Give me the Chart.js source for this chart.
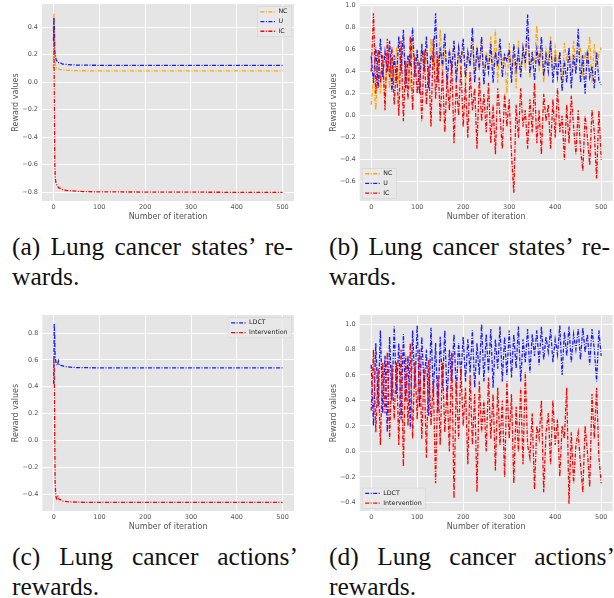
<!DOCTYPE html>
<html lang="en">
<head>
<meta charset="UTF-8">
<title>Lung cancer rewards</title>
<script src="https://cdn.jsdelivr.net/npm/chart.js@4"></script>
<style>
    body {
        margin: 0;
        width: 614px;
        height: 598px;
        overflow: hidden;
        background: #fff;
        position: relative;
    }
    canvas {
        position: absolute;
    }
    .cap {
        position: absolute;
        font-family: "Liberation Serif", serif;
        font-size: 25.5px;
        line-height: 30px;
        color: #111;
    }
    .cap .l1 {
        text-align: justify;
        text-align-last: justify;
    }
</style>
</head>
<body>
<canvas id="chartA" width="307" height="222" style="left:0;top:0"></canvas>
<canvas id="chartB" width="307" height="222" style="left:307px;top:0"></canvas>
<canvas id="chartC" width="307" height="222" style="left:0;top:310px"></canvas>
<canvas id="chartD" width="307" height="222" style="left:307px;top:310px"></canvas>

<div class="cap" style="left:12px;top:232px"><div class="l1" style="width:281px">(a) Lung cancer states’ re-</div><div>wards.</div></div>
<div class="cap" style="left:329px;top:232px"><div class="l1" style="width:281px">(b) Lung cancer states’ re-</div><div>wards.</div></div>
<div class="cap" style="left:12px;top:542px"><div class="l1" style="width:286px">(c) Lung cancer actions’</div><div>rewards.</div></div>
<div class="cap" style="left:329px;top:542px"><div class="l1" style="width:286px">(d) Lung cancer actions’</div><div>rewards.</div></div>

<script>
// (a) states, converging
const iterA = [0, 1, 2, 3, 4, 5, 6, 8, 10, 12, 15, 20, 25, 30, 40, 50, 70, 100, 200, 300, 400, 500];
const ncA = [0.10, 0.50, 0.25, 0.15, 0.13, 0.12, 0.11, 0.10, 0.10, 0.095, 0.09, 0.09, 0.088, 0.085, 0.085, 0.083, 0.082, 0.082, 0.081, 0.081, 0.081, 0.081];
const uA = [0.30, 0.47, 0.40, 0.22, 0.20, 0.18, 0.16, 0.15, 0.15, 0.14, 0.14, 0.13, 0.13, 0.128, 0.125, 0.124, 0.123, 0.122, 0.122, 0.122, 0.122, 0.122];
const icA = [0.40, 0.30, -0.20, -0.60, -0.70, -0.72, -0.74, -0.75, -0.76, -0.77, -0.77, -0.78, -0.785, -0.787, -0.79, -0.792, -0.795, -0.797, -0.798, -0.799, -0.80, -0.80];

// (c) actions, converging
const iterC = [0, 1, 2, 3, 4, 5, 6, 8, 10, 12, 15, 20, 25, 30, 40, 50, 70, 100, 200, 300, 400, 500];
const ldctC = [0.42, 0.87, 0.80, 0.62, 0.60, 0.58, 0.57, 0.56, 0.59, 0.56, 0.56, 0.555, 0.55, 0.548, 0.545, 0.543, 0.542, 0.541, 0.54, 0.54, 0.54, 0.54];
const intC = [0.60, 0.55, 0.10, -0.30, -0.38, -0.42, -0.43, -0.41, -0.42, -0.44, -0.44, -0.45, -0.452, -0.455, -0.457, -0.458, -0.46, -0.46, -0.46, -0.46, -0.46, -0.46];

// (b) and (d): values read every 5 iterations
const iterB = Array.from({length: 101}, (_, i) => i * 5);
const ncB = [0.10, 0.35, 0.05, 0.55, 0.20, 0.45, 0.15, 0.60, 0.25, 0.50, 0.30,
    0.62, 0.28, 0.55, 0.70, 0.35, 0.50, 0.25, 0.65, 0.40, 0.55,
    0.45, 0.62, 0.38, 0.58, 0.30, 0.70, 0.42, 0.55, 0.35, 0.78,
    0.40, 0.60, 0.32, 0.58, 0.45, 0.68, 0.36, 0.55, 0.42, 0.62,
    0.30, 0.55, 0.48, 0.65, 0.38, 0.60, 0.44, 0.70, 0.35, 0.58,
    0.46, 0.72, 0.40, 0.78, 0.30, 0.62, 0.48, 0.56, 0.20, 0.66,
    0.42, 0.58, 0.25, 0.68, 0.38, 0.60, 0.45, 0.75, 0.35, 0.55,
    0.48, 0.82, 0.40, 0.65, 0.30, 0.60, 0.50, 0.72, 0.36, 0.62,
    0.45, 0.58, 0.28, 0.66, 0.50, 0.60, 0.38, 0.68, 0.44, 0.55,
    0.62, 0.35, 0.58, 0.48, 0.72, 0.30, 0.65, 0.45, 0.55, 0.62];
const uB = [0.54, 0.30, 0.62, 0.25, 0.70, 0.35, 0.58, 0.40, 0.68, 0.22, 0.55,
    0.30, 0.72, 0.40, 0.78, 0.25, 0.55, 0.45, 0.80, 0.35, 0.60,
    0.20, 0.65, 0.40, 0.72, 0.25, 0.55, 0.50, 0.93, 0.30, 0.62,
    0.45, 0.75, 0.28, 0.60, 0.40, 0.68, 0.30, 0.62, 0.48, 0.70,
    0.35, 0.58, 0.45, 0.80, 0.30, 0.62, 0.42, 0.72, 0.28, 0.55,
    0.40, 0.65, 0.30, 0.58, 0.45, 0.70, 0.35, 0.55, 0.50, 0.60,
    0.30, 0.65, 0.42, 0.58, 0.35, 0.62, 0.48, 0.92, 0.38, 0.58,
    0.32, 0.60, 0.45, 0.72, 0.36, 0.55, 0.40, 0.68, 0.30, 0.52,
    0.35, 0.58, 0.22, 0.50, 0.30, 0.62, 0.25, 0.55, 0.38, 0.79,
    0.30, 0.55, 0.20, 0.60, 0.35, 0.45, 0.25, 0.58, 0.32, 0.28];
const icB = [0.40, 0.93, 0.20, 0.60, 0.30, 0.55, 0.05, 0.70, 0.35, 0.62, 0.10,
    0.45, 0.00, 0.68, -0.05, 0.50, 0.15, 0.72, 0.05, 0.55, 0.20,
    0.48, -0.05, 0.60, 0.10, 0.45, -0.10, 0.70, 0.15, 0.55, -0.05,
    0.42, -0.15, 0.35, 0.05, 0.50, -0.25, 0.30, 0.00, 0.45, -0.10,
    0.30, -0.20, 0.40, 0.05, 0.25, -0.30, 0.35, -0.05, 0.20, -0.15,
    0.30, -0.25, 0.10, -0.35, 0.25, 0.00, -0.30, 0.20, -0.10, 0.15,
    -0.35, -0.70, 0.10, -0.20, 0.25, -0.10, 0.05, -0.30, 0.15, -0.15,
    0.30, -0.25, 0.05, -0.35, 0.20, -0.05, 0.10, -0.30, 0.15, -0.20,
    0.25, -0.15, 0.00, -0.40, 0.10, -0.25, 0.18, -0.10, -0.35, 0.05,
    -0.30, -0.50, 0.00, -0.20, -0.45, 0.05, -0.15, -0.57, 0.05, -0.40];
const ldctD = [0.68, 0.20, 0.85, 0.35, 0.95, 0.30, 0.75, 0.15, 0.90, 0.40, 0.98,
    0.45, 0.85, 0.25, 0.92, 0.40, 0.75, 0.18, 0.95, 0.50, 0.99,
    0.35, 0.90, 0.50, 0.80, 0.28, 0.97, 0.45, 0.85, 0.30, 0.90,
    0.50, 0.95, 0.40, 0.80, 0.55, 0.92, 0.45, 0.85, 0.60, 0.90,
    0.55, 0.88, 0.62, 0.95, 0.50, 0.85, 0.60, 1.00, 0.55, 0.92,
    0.62, 0.96, 0.50, 0.88, 0.65, 0.98, 0.55, 0.90, 0.60, 0.95,
    0.58, 0.92, 0.65, 0.98, 0.55, 0.88, 0.70, 0.96, 0.62, 0.92,
    0.75, 0.95, 0.68, 0.98, 0.72, 0.90, 0.78, 0.96, 0.70, 0.88,
    0.76, 0.99, 0.60, 0.94, 0.75, 0.98, 0.70, 0.92, 0.80, 0.96,
    0.72, 0.97, 0.78, 0.92, 0.68, 0.96, 0.80, 0.55, 0.95, 0.75];
const intD = [0.32, 0.80, 0.15, 0.65, 0.05, 0.70, 0.30, 0.78, 0.10, 0.68, 0.25,
    0.70, 0.05, 0.80, -0.12, 0.75, 0.20, 0.85, 0.10, 0.70, 0.25,
    0.80, 0.10, 0.65, -0.05, 0.72, 0.20, 0.55, -0.25, 0.60, 0.05,
    0.70, 0.15, 0.50, 0.00, 0.78, -0.37, 0.55, 0.10, 0.65, 0.20,
    0.50, -0.10, 0.60, 0.05, 0.45, -0.32, 0.55, 0.15, 0.40, 0.00,
    0.58, 0.10, 0.45, -0.15, 0.50, 0.05, 0.40, -0.20, 0.55, 0.10,
    0.45, -0.25, 0.35, 0.00, 0.50, -0.10, 0.62, 0.05, -0.05, 0.30,
    -0.30, 0.20, 0.10, 0.40, -0.32, 0.15, 0.30, -0.10, 0.40, 0.05,
    0.25, -0.20, 0.20, 0.10, 0.50, -0.41, 0.15, -0.25, 0.05, 0.15,
    -0.10, -0.32, 0.20, 0.00, -0.28, 0.45, 0.10, 0.50, -0.05, -0.25];

// tick labels
const xTicks = [0, 100, 200, 300, 400, 500];
const yTicksA = [-0.8, -0.6, -0.4, -0.2, 0.0, 0.2, 0.4];
const yTicksB = [-0.6, -0.4, -0.2, 0.0, 0.2, 0.4, 0.6, 0.8, 1.0];
const yTicksC = [-0.4, -0.2, 0.0, 0.2, 0.4, 0.6, 0.8];
const yTicksD = [-0.4, -0.2, 0.0, 0.2, 0.4, 0.6, 0.8, 1.0];

const ORANGE = '#FFA500', BLUE = '#1A1AFF', RED = '#FF0000';
const DASHDOT = [4, 1.5, 1, 1.5];

Chart.defaults.font.family = '"DejaVu Sans", sans-serif';

// grey panel behind the grid
const plotBg = {
    id: 'plotBg',
    beforeDraw(chart) {
        const {ctx, chartArea: a} = chart;
        ctx.save();
        ctx.fillStyle = '#E5E5E5';
        ctx.fillRect(a.left, a.top, a.right - a.left, a.bottom - a.top);
        ctx.restore();
    }
};

// matplotlib-like legend inside the axes
const boxLegend = {
    id: 'boxLegend',
    afterDatasetsDraw(chart, args, opts) {
        const {ctx, chartArea: a} = chart;
        const sets = chart.data.datasets;
        ctx.save();
        ctx.font = '6.3px "DejaVu Sans"';
        const tw = Math.max(...sets.map(d => ctx.measureText(d.label).width));
        const rowH = 9.7;
        const w = 3 + 15 + 3 + tw + 4;
        const h = rowH * sets.length + 1;
        const m = 2.5;
        const x = opts.corner === 'tr' ? a.right - m - w : a.left + m;
        const y = opts.corner === 'tr' ? a.top + m : a.bottom - m - h;
        ctx.fillStyle = 'rgba(233,233,233,0.85)';
        ctx.strokeStyle = '#D8D8D8';
        ctx.lineWidth = 0.8;
        ctx.fillRect(x, y, w, h);
        ctx.strokeRect(x, y, w, h);
        sets.forEach((d, i) => {
            const cy = y + 0.5 + rowH * (i + 0.5);
            ctx.strokeStyle = d.borderColor;
            ctx.lineWidth = 1.3;
            ctx.setLineDash(DASHDOT);
            ctx.beginPath();
            ctx.moveTo(x + 3, cy);
            ctx.lineTo(x + 18, cy);
            ctx.stroke();
            ctx.setLineDash([]);
            ctx.fillStyle = '#222';
            ctx.textBaseline = 'middle';
            ctx.fillText(d.label, x + 21, cy);
        });
        ctx.restore();
    }
};

const fmtY = v => v.toFixed(1).replace('-', '\u2212');

function makeChart(id, cfg) {
    const datasets = cfg.series.map(s => ({
        label: s.label,
        data: cfg.iters.map((x, i) => ({x: x, y: s.values[i]})),
        borderColor: s.color,
        borderWidth: 1.3,
        borderDash: DASHDOT,
        pointRadius: 0,
        fill: false,
        tension: 0,
        order: s.order
    }));
    return new Chart(document.getElementById(id), {
        type: 'line',
        data: {datasets: datasets},
        options: {
            responsive: false,
            animation: false,
            events: [],
            layout: {padding: {left: 0, top: cfg.padTop, right: cfg.padRight, bottom: 0}},
            plugins: {
                legend: {display: false},
                tooltip: {enabled: false},
                boxLegend: {corner: cfg.corner}
            },
            scales: {
                x: {
                    type: 'linear',
                    min: -25,
                    max: 525,
                    afterBuildTicks: s => { s.ticks = xTicks.map(v => ({value: v})); },
                    afterFit: s => { s.height = 21; s.paddingLeft = 0; s.paddingRight = 0; },
                    ticks: {color: '#555', font: {size: 6.5}, padding: 2.5, maxRotation: 0, autoSkip: false,
                        callback: v => String(v)},
                    grid: {color: '#fff', lineWidth: 1, drawTicks: false},
                    border: {display: false},
                    title: {display: true, text: 'Number of iteration', color: '#555', font: {size: 8},
                        padding: {top: 0, bottom: 0.5}}
                },
                y: {
                    type: 'linear',
                    min: cfg.yMin,
                    max: cfg.yMax,
                    afterBuildTicks: s => { s.ticks = cfg.yTicks.map(v => ({value: v})); },
                    afterFit: s => { s.width = cfg.yWidth; s.paddingTop = 0; s.paddingBottom = 0; },
                    ticks: {color: '#555', font: {size: 6.5}, padding: 4, autoSkip: false, callback: fmtY},
                    grid: {color: '#fff', lineWidth: 1, drawTicks: false},
                    border: {display: false},
                    title: {display: true, text: 'Reward values', color: '#555', font: {size: 8},
                        padding: {top: cfg.yTitlePad, bottom: 0}}
                }
            }
        },
        plugins: [plotBg, boxLegend]
    });
}

makeChart('chartA', {
    iters: iterA,
    series: [
        {label: 'NC', color: ORANGE, values: ncA, order: 2},
        {label: 'U', color: BLUE, values: uA, order: 1},
        {label: 'IC', color: RED, values: icA, order: 0}
    ],
    yTicks: yTicksA, yMin: -0.863, yMax: 0.567,
    yWidth: 42, padTop: 4, padRight: 13, yTitlePad: 11, corner: 'tr'
});

makeChart('chartB', {
    iters: iterB,
    series: [
        {label: 'NC', color: ORANGE, values: ncB, order: 2},
        {label: 'U', color: BLUE, values: uB, order: 1},
        {label: 'IC', color: RED, values: icB, order: 0}
    ],
    yTicks: yTicksB, yMin: -0.775, yMax: 1.015,
    yWidth: 52.7, padTop: 4, padRight: 1.3, yTitlePad: 22.5, corner: 'bl'
});

makeChart('chartC', {
    iters: iterC,
    series: [
        {label: 'LDCT', color: BLUE, values: ldctC, order: 1},
        {label: 'Intervention', color: RED, values: intC, order: 0}
    ],
    yTicks: yTicksC, yMin: -0.524, yMax: 0.934,
    yWidth: 42.3, padTop: 5, padRight: 13, yTitlePad: 11, corner: 'tr'
});

makeChart('chartD', {
    iters: iterB,
    series: [
        {label: 'LDCT', color: BLUE, values: ldctD, order: 1},
        {label: 'Intervention', color: RED, values: intD, order: 0}
    ],
    yTicks: yTicksD, yMin: -0.468, yMax: 1.071,
    yWidth: 52.7, padTop: 5, padRight: 1.3, yTitlePad: 22.5, corner: 'bl'
});
</script>
</body>
</html>
